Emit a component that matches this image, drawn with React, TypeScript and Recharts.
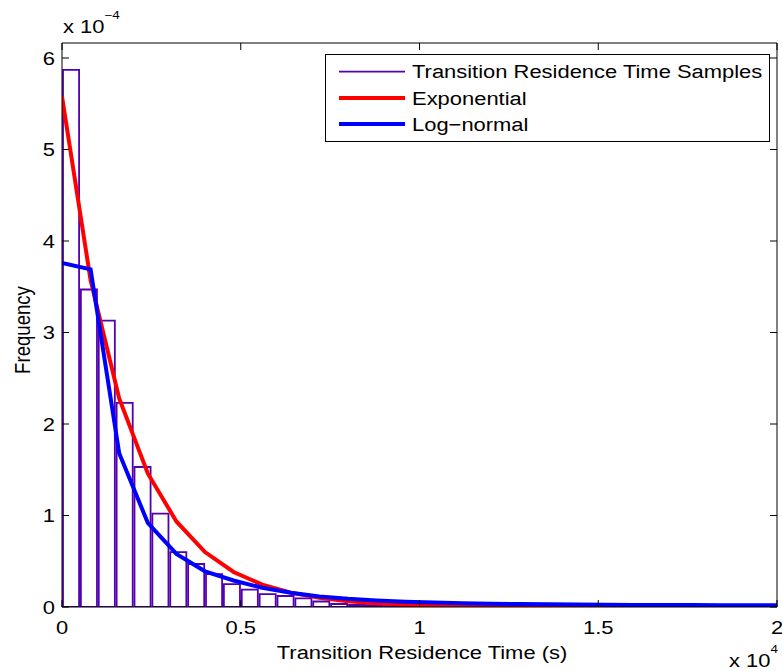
import React from "react";
import { ComposedChart, Bar, Line, XAxis, YAxis, Legend } from "recharts";

// histogram bins (x in 1e4 s, frequency in 1e-4)
const BIN_CENTERS = [
  0.025, 0.075, 0.125, 0.175, 0.225, 0.275, 0.325, 0.375, 0.425, 0.475,
  0.525, 0.575, 0.625, 0.675, 0.725, 0.775, 0.825, 0.875, 0.925, 0.975,
  1.025, 1.075, 1.125, 1.175, 1.225, 1.275, 1.325, 1.375, 1.425, 1.475,
  1.525, 1.575, 1.625, 1.675, 1.725, 1.775, 1.825, 1.875, 1.925, 1.975,
];
const BIN_FREQ = [
  5.87, 3.47, 3.13, 2.23, 1.53, 1.02, 0.6, 0.47, 0.36, 0.25,
  0.19, 0.14, 0.12, 0.095, 0.06, 0.033, 0.022, 0.02, 0.01, 0.008,
  0.006, 0.005, 0.004, 0.003, 0.003, 0.002, 0.002, 0.002, 0.001, 0.001,
  0.001, 0.001, 0.001, 0.0005, 0.0005, 0.0005, 0.0005, 0.0005, 0.0005, 0.0005,
];

// fitted curves, sampled on the same grid
const GRID_X = [
  0, 0.08, 0.16, 0.24, 0.32, 0.4, 0.48, 0.56, 0.64, 0.72, 0.8, 0.88, 0.96,
  1.04, 1.12, 1.2, 1.28, 1.36, 1.44, 1.52, 1.6, 1.68, 1.76, 1.84, 1.92, 2.0,
];
const EXP_FIT = [
  5.58, 3.57, 2.28, 1.46, 0.935, 0.6, 0.383, 0.245, 0.157, 0.1, 0.064, 0.041, 0.026,
  0.017, 0.011, 0.007, 0.0045, 0.0029, 0.0018, 0.0012, 0.0008, 0.0005, 0.0003, 0.0002, 0.0001, 0.0001,
];
const LOGN_FIT = [
  3.76, 3.69, 1.68, 0.92, 0.58, 0.39, 0.29, 0.21, 0.155, 0.115, 0.09, 0.072, 0.058,
  0.049, 0.042, 0.036, 0.032, 0.029, 0.027, 0.025, 0.023, 0.022, 0.021, 0.02, 0.019, 0.019,
];

const X_TICKS = [0, 0.5, 1, 1.5, 2];
const Y_TICKS = [0, 1, 2, 3, 4, 5, 6];
const Y_MAX = 6.164;

const SERIES = [
  { name: "Transition Residence Time Samples", color: "#5200b0", width: 1.8 },
  { name: "Exponential", color: "#ff0000", width: 4 },
  { name: "Log\u2212normal", color: "#0000ff", width: 4 },
];

const FONT = "'Liberation Sans', Arial, Helvetica, sans-serif";

// MATLAB export looks horizontally stretched, so text is widened a bit
function SText({ x, y, anchor = "middle", size = 18.6, rotate = 0, children }: any) {
  const rot = rotate ? ` rotate(${rotate})` : "";
  return (
    <text
      transform={`translate(${x},${y}) scale(1.18,1)${rot}`}
      textAnchor={anchor}
      fontFamily={FONT}
      fontSize={size}
      fill="#000"
    >
      {children}
    </text>
  );
}

const LeftTick = (p: any) => (
  <g>
    <line x1={p.x} y1={p.y} x2={p.x + 7} y2={p.y} stroke="#000" />
    <SText x={p.x - 7} y={p.y + 6.6} anchor="end">{String(p.payload.value)}</SText>
  </g>
);

const RightTick = (p: any) => (
  <line x1={p.x} y1={p.y} x2={p.x - 7} y2={p.y} stroke="#000" />
);

const BottomTick = (p: any) => (
  <g>
    <line x1={p.x} y1={p.y} x2={p.x} y2={p.y - 7} stroke="#000" />
    <SText x={p.x} y={p.y + 27}>{String(p.payload.value)}</SText>
  </g>
);

const TopTick = (p: any) => (
  <line x1={p.x} y1={p.y} x2={p.x} y2={p.y + 7} stroke="#000" />
);

const XTitle = () => (
  <g>
    <SText x={422} y={659}>Transition Residence Time (s)</SText>
    <SText x={729} y={667} anchor="start">
      x 10<tspan dy={-14} fontSize={11.4}>4</tspan>
    </SText>
  </g>
);

const YTitle = () => (
  <g>
    <SText x={30} y={330} rotate={-90}>Frequency</SText>
    <SText x={63} y={33} anchor="start">
      x 10<tspan dy={-14} fontSize={11.4}>{"\u22124"}</tspan>
    </SText>
  </g>
);

function LegendBox() {
  return (
    <svg width={446} height={89} style={{ display: "block" }}>
      <rect x={0.5} y={0.5} width={444} height={87} fill="#fff" stroke="#000" />
      {SERIES.map((s, i) => {
        const cy = 17.7 + i * 26.2;
        return (
          <g key={s.name}>
            <line x1={14} y1={cy} x2={80} y2={cy} stroke={s.color} strokeWidth={s.width} />
            <SText x={87} y={cy + 6.6} anchor="start">{s.name}</SText>
          </g>
        );
      })}
    </svg>
  );
}

export default function App() {
  const bins = BIN_CENTERS.map((x, i) => ({ x, freq: BIN_FREQ[i] }));
  const fits = GRID_X.map((x, i) => ({ x, exp: EXP_FIT[i], logn: LOGN_FIT[i] }));

  return (
    <div style={{ position: "absolute", left: 0, top: 0, width: 782, height: 671, background: "#fff" }}>
      <ComposedChart
        width={782}
        height={671}
        data={bins}
        margin={{ top: 42, right: 0, bottom: 0, left: 0 }}
      >
        <XAxis
          xAxisId="b"
          dataKey="x"
          type="number"
          domain={[0, 2]}
          ticks={X_TICKS}
          interval={0}
          height={64}
          allowDataOverflow
          tickLine={false}
          tickSize={0}
          tickMargin={0}
          axisLine={{ stroke: "#000" }}
          tick={<BottomTick />}
          label={<XTitle />}
        />
        <XAxis
          xAxisId="t"
          dataKey="x"
          type="number"
          orientation="top"
          domain={[0, 2]}
          ticks={X_TICKS}
          interval={0}
          height={1}
          allowDataOverflow
          tickLine={false}
          tickSize={0}
          tickMargin={0}
          axisLine={{ stroke: "#000" }}
          tick={<TopTick />}
        />
        <YAxis
          yAxisId="l"
          type="number"
          domain={[0, Y_MAX]}
          ticks={Y_TICKS}
          interval={0}
          width={62}
          allowDataOverflow
          tickLine={false}
          tickSize={0}
          tickMargin={0}
          axisLine={{ stroke: "#000" }}
          tick={<LeftTick />}
          label={<YTitle />}
        />
        <YAxis
          yAxisId="r"
          type="number"
          orientation="right"
          domain={[0, Y_MAX]}
          ticks={Y_TICKS}
          interval={0}
          width={5}
          allowDataOverflow
          tickLine={false}
          tickSize={0}
          tickMargin={0}
          axisLine={{ stroke: "#000" }}
          tick={<RightTick />}
        />
        <Bar
          xAxisId="b"
          yAxisId="l"
          dataKey="freq"
          fill="none"
          stroke={SERIES[0].color}
          strokeWidth={SERIES[0].width}
          barSize={17.875}
          isAnimationActive={false}
        />
        <Line
          xAxisId="t"
          yAxisId="r"
          data={fits}
          dataKey="exp"
          type="linear"
          stroke={SERIES[1].color}
          strokeWidth={SERIES[1].width}
          dot={false}
          isAnimationActive={false}
        />
        <Line
          xAxisId="t"
          yAxisId="r"
          data={fits}
          dataKey="logn"
          type="linear"
          stroke={SERIES[2].color}
          strokeWidth={SERIES[2].width}
          dot={false}
          isAnimationActive={false}
        />
        <Legend
          layout="horizontal"
          verticalAlign="middle"
          align="center"
          wrapperStyle={{ position: "absolute", left: 325, top: 54, width: 446, height: 89 }}
          content={<LegendBox />}
        />
      </ComposedChart>
    </div>
  );
}
